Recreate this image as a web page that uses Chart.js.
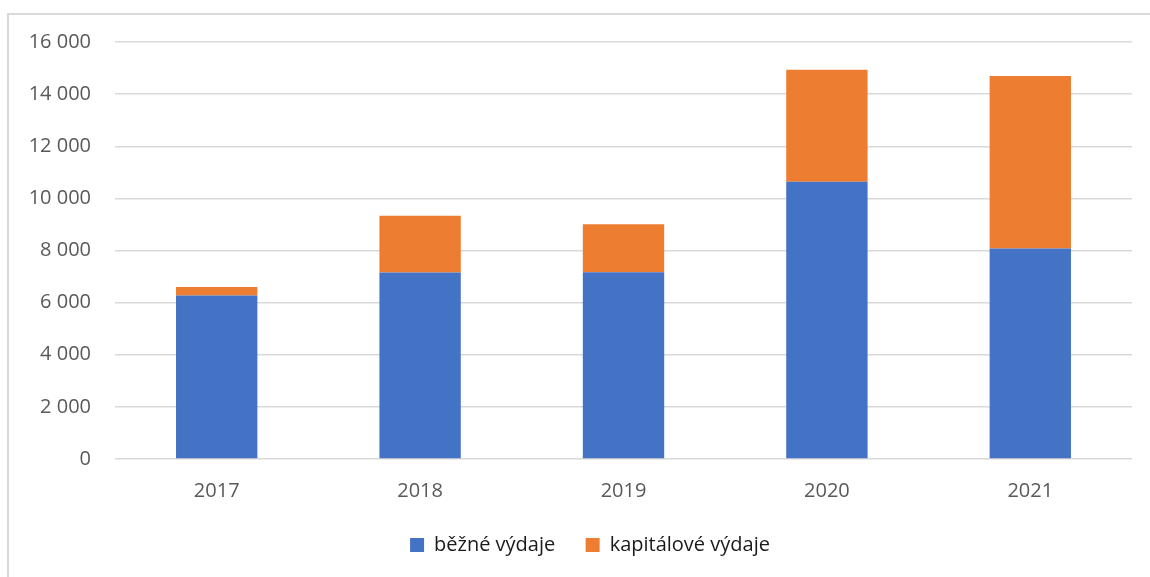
<!DOCTYPE html>
<html>
<head>
<meta charset="utf-8">
<script src="https://cdn.jsdelivr.net/npm/chart.js@4"></script>
<style>
  body { margin: 0; background: #fff; }
  #frame { position: absolute; left: 7px; top: 13px; width: 1200px; height: 620px; border: 2px solid #d9d9d9; }
  #wrap { position: absolute; left: 0; top: 0; width: 1150px; height: 577px; }
</style>
</head>
<body>
<div id="frame"></div>
<div id="wrap"><canvas id="chart"></canvas></div>
<script>
const years = ["2017", "2018", "2019", "2020", "2021"];
const bezne = [6270, 7160, 7170, 10640, 8080];
const kapitalove = [330, 2170, 1840, 4300, 6620];

function fmt(v) {
    return String(v).replace(/\B(?=(\d{3})+(?!\d))/g, " ");
}

// legend sits a bit right of the canvas centre in the original
const shiftLegend = {
    id: "shiftLegend",
    afterLayout(chart) {
        if (chart.legend) {
            chart.legend.left += 24;
            chart.legend.right += 24;
        }
    }
};

const ctx = document.getElementById("chart").getContext("2d");
new Chart(ctx, {
    type: "bar",
    data: {
        labels: years,
        datasets: [
            {
                label: "běžné výdaje",
                data: bezne,
                backgroundColor: "#4472C4",
                borderWidth: 0
            },
            {
                label: "kapitálové výdaje",
                data: kapitalove,
                backgroundColor: "#ED7D31",
                borderWidth: 0
            }
        ]
    },
    options: {
        responsive: true,
        maintainAspectRatio: false,
        animation: false,
        layout: { padding: { top: 42, right: 18, bottom: 12, left: 0 } },
        datasets: { bar: { categoryPercentage: 1, barPercentage: 0.4 } },
        plugins: {
            tooltip: { enabled: false },
            legend: {
                position: "bottom",
                labels: {
                    font: { family: "Open Sans", size: 20 },
                    color: "#1a1a1a",
                    boxWidth: 14,
                    boxHeight: 14,
                    padding: 20,
                    generateLabels: (chart) => {
                        const items = Chart.defaults.plugins.legend.labels.generateLabels(chart);
                        // a bit more room between the two entries
                        items[0].text = items[0].text + "  ";
                        return items;
                    }
                }
            }
        },
        scales: {
            x: {
                stacked: true,
                grid: { display: false },
                border: { display: false },
                ticks: {
                    font: { family: "Open Sans", size: 20 },
                    color: "#595959",
                    padding: 12
                }
            },
            y: {
                stacked: true,
                min: 0,
                max: 16000,
                afterFit: (scale) => { scale.width = 115; },
                grid: { color: "#d9d9d9", lineWidth: 1.5, drawTicks: false },
                border: { display: false },
                ticks: {
                    stepSize: 2000,
                    font: { family: "Open Sans", size: 20 },
                    color: "#595959",
                    padding: 24,
                    callback: (v) => fmt(v)
                }
            }
        }
    },
    plugins: [shiftLegend]
});
</script>
</body>
</html>
